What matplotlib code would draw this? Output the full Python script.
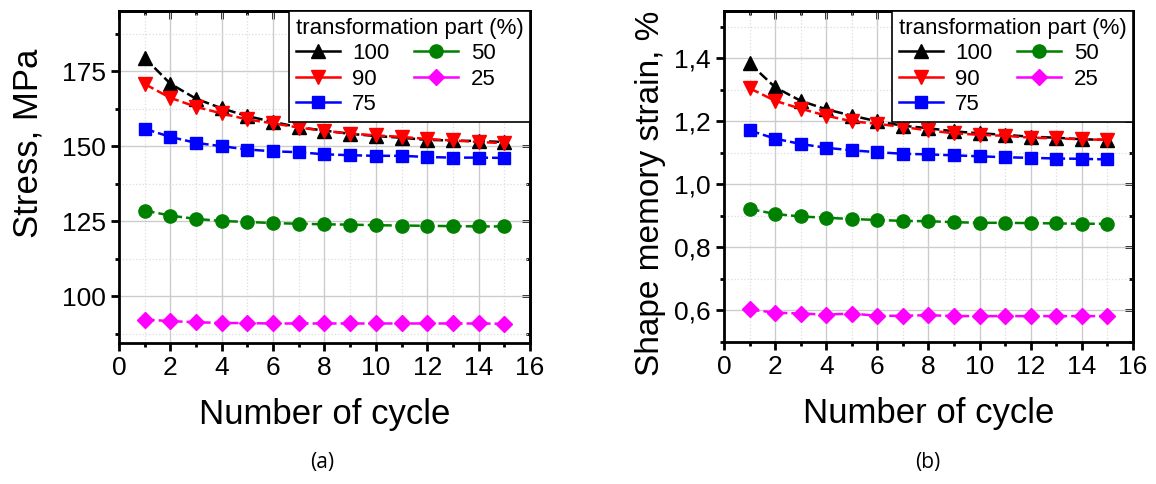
import matplotlib.pyplot as plt
from matplotlib.lines import Line2D
from matplotlib.ticker import MultipleLocator, FuncFormatter

plt.rcParams['font.family'] = ['Liberation Sans', 'DejaVu Sans']

cycles = list(range(1, 16))
parts = ["100", "90", "75", "50", "25"]

stress_100 = [179.4, 170.8, 165.8, 162.6, 160.0, 158.1, 156.3, 155.2, 154.1, 153.4, 152.8, 152.1, 151.9, 151.7, 151.4]
stress_90 = [170.7, 166.1, 163.1, 160.9, 158.9, 157.6, 156.2, 155.1, 154.2, 153.6, 153.1, 152.4, 151.9, 151.4, 151.0]
stress_75 = [155.8, 153.1, 151.1, 150.0, 148.9, 148.3, 148.0, 147.3, 147.0, 146.8, 146.8, 146.4, 146.2, 146.2, 146.1]
stress_50 = [128.6, 126.9, 125.8, 125.1, 124.8, 124.4, 124.2, 124.0, 123.9, 123.7, 123.6, 123.5, 123.4, 123.3, 123.3]
stress_25 = [92.3, 91.8, 91.4, 91.2, 91.1, 91.0, 91.0, 91.0, 91.0, 91.0, 91.0, 91.0, 91.0, 91.0, 90.9]

strain_100 = [1.384, 1.308, 1.265, 1.238, 1.218, 1.200, 1.186, 1.178, 1.168, 1.162, 1.157, 1.151, 1.148, 1.143, 1.141]
strain_90 = [1.305, 1.265, 1.240, 1.218, 1.200, 1.192, 1.182, 1.171, 1.162, 1.157, 1.154, 1.148, 1.146, 1.143, 1.141]
strain_75 = [1.171, 1.145, 1.128, 1.116, 1.108, 1.102, 1.097, 1.095, 1.092, 1.089, 1.086, 1.084, 1.082, 1.081, 1.079]
strain_50 = [0.922, 0.906, 0.898, 0.894, 0.890, 0.887, 0.884, 0.883, 0.880, 0.878, 0.878, 0.877, 0.876, 0.875, 0.875]
strain_25 = [0.603, 0.593, 0.590, 0.587, 0.590, 0.583, 0.583, 0.585, 0.582, 0.582, 0.582, 0.582, 0.582, 0.582, 0.582]

colors = ["black", "red", "blue", "green", "magenta"]
markers = ["^", "v", "s", "o", "D"]
msizes = [9.5, 9.5, 8.5, 9.5, 8.5]

fig = plt.figure(figsize=(11.56, 4.84), dpi=100)
ax1 = fig.add_axes([0.1029, 0.2913, 0.3556, 0.686])
ax2 = fig.add_axes([0.6263, 0.2935, 0.3538, 0.6838])


def style_axis(ax, ylim, major, minor, ylabel, label_size, fmt):
    ax.set_xlim(0, 16)
    ax.set_ylim(*ylim)
    ax.xaxis.set_major_locator(MultipleLocator(2))
    ax.xaxis.set_minor_locator(MultipleLocator(1))
    ax.yaxis.set_major_locator(MultipleLocator(major))
    ax.yaxis.set_minor_locator(MultipleLocator(minor))
    ax.yaxis.set_major_formatter(FuncFormatter(fmt))
    ax.grid(which='major', color='#cccccc', linewidth=1.0, linestyle='-')
    ax.grid(which='minor', color='#dddddd', linewidth=0.9, linestyle=':')
    ax.set_axisbelow(True)
    for s in ax.spines.values():
        s.set_linewidth(2.0)
    ax.tick_params(which='both', labelsize=19, width=2.0, direction='out',
                   top=False, right=False)
    ax.tick_params(which='major', length=6)
    ax.tick_params(which='minor', length=3)
    ax.set_xlabel("Number of cycle", fontsize=25, labelpad=13)
    ax.set_ylabel(ylabel, fontsize=label_size)

    # top and right ticks point inwards
    tx = ax.secondary_xaxis('top')
    tx.xaxis.set_major_locator(MultipleLocator(2))
    tx.xaxis.set_minor_locator(MultipleLocator(1))
    ty = ax.secondary_yaxis('right')
    ty.yaxis.set_major_locator(MultipleLocator(major))
    ty.yaxis.set_minor_locator(MultipleLocator(minor))
    for sec in (tx, ty):
        sec.tick_params(which='both', direction='in', labeltop=False,
                        labelright=False, width=2.0)
        sec.tick_params(which='major', length=6)
        sec.tick_params(which='minor', length=3)
        for s in sec.spines.values():
            s.set_linewidth(2.0)


style_axis(ax1, (84.5, 195), 25, 12.5, "Stress, MPa", 25,
           lambda v, p: f"{v:.0f}")
style_axis(ax2, (0.5, 1.55), 0.2, 0.1, "Shape memory strain, %", 24,
           lambda v, p: f"{v:.1f}".replace(".", ","))
ax1.yaxis.set_label_coords(-0.18, 0.6)
ax2.yaxis.set_label_coords(-0.142, 0.45)

stress = [stress_100, stress_90, stress_75, stress_50, stress_25]
strain = [strain_100, strain_90, strain_75, strain_50, strain_25]

for ax, series in ((ax1, stress), (ax2, strain)):
    handles = []
    for vals, c, m, ms, lab in zip(series, colors, markers, msizes, parts):
        ax.plot(cycles, vals, color=c, marker=m, markersize=ms, linewidth=1.8,
                linestyle=(0, (4, 1.6)), zorder=3)
        handles.append(Line2D([], [], color=c, marker=m, markersize=ms,
                              linewidth=1.8, label=lab))
    leg = ax.legend(handles=handles, title="transformation part (%)", ncol=2,
                    loc='upper right', borderaxespad=0, fontsize=16,
                    title_fontsize=16, fancybox=False, framealpha=1,
                    edgecolor='black', alignment='left', handlelength=2.0,
                    handletextpad=0.55, columnspacing=1.1, labelspacing=0.2,
                    borderpad=0.3)
    leg.get_frame().set_linewidth(1.2)
    leg.set_zorder(5)

fig.text(0.2785, 0.033, "(a)", fontsize=15, family='Open Sans', ha='center')
fig.text(0.8028, 0.033, "(b)", fontsize=15, family='Open Sans', ha='center')

fig.savefig("out.png", dpi=100)
